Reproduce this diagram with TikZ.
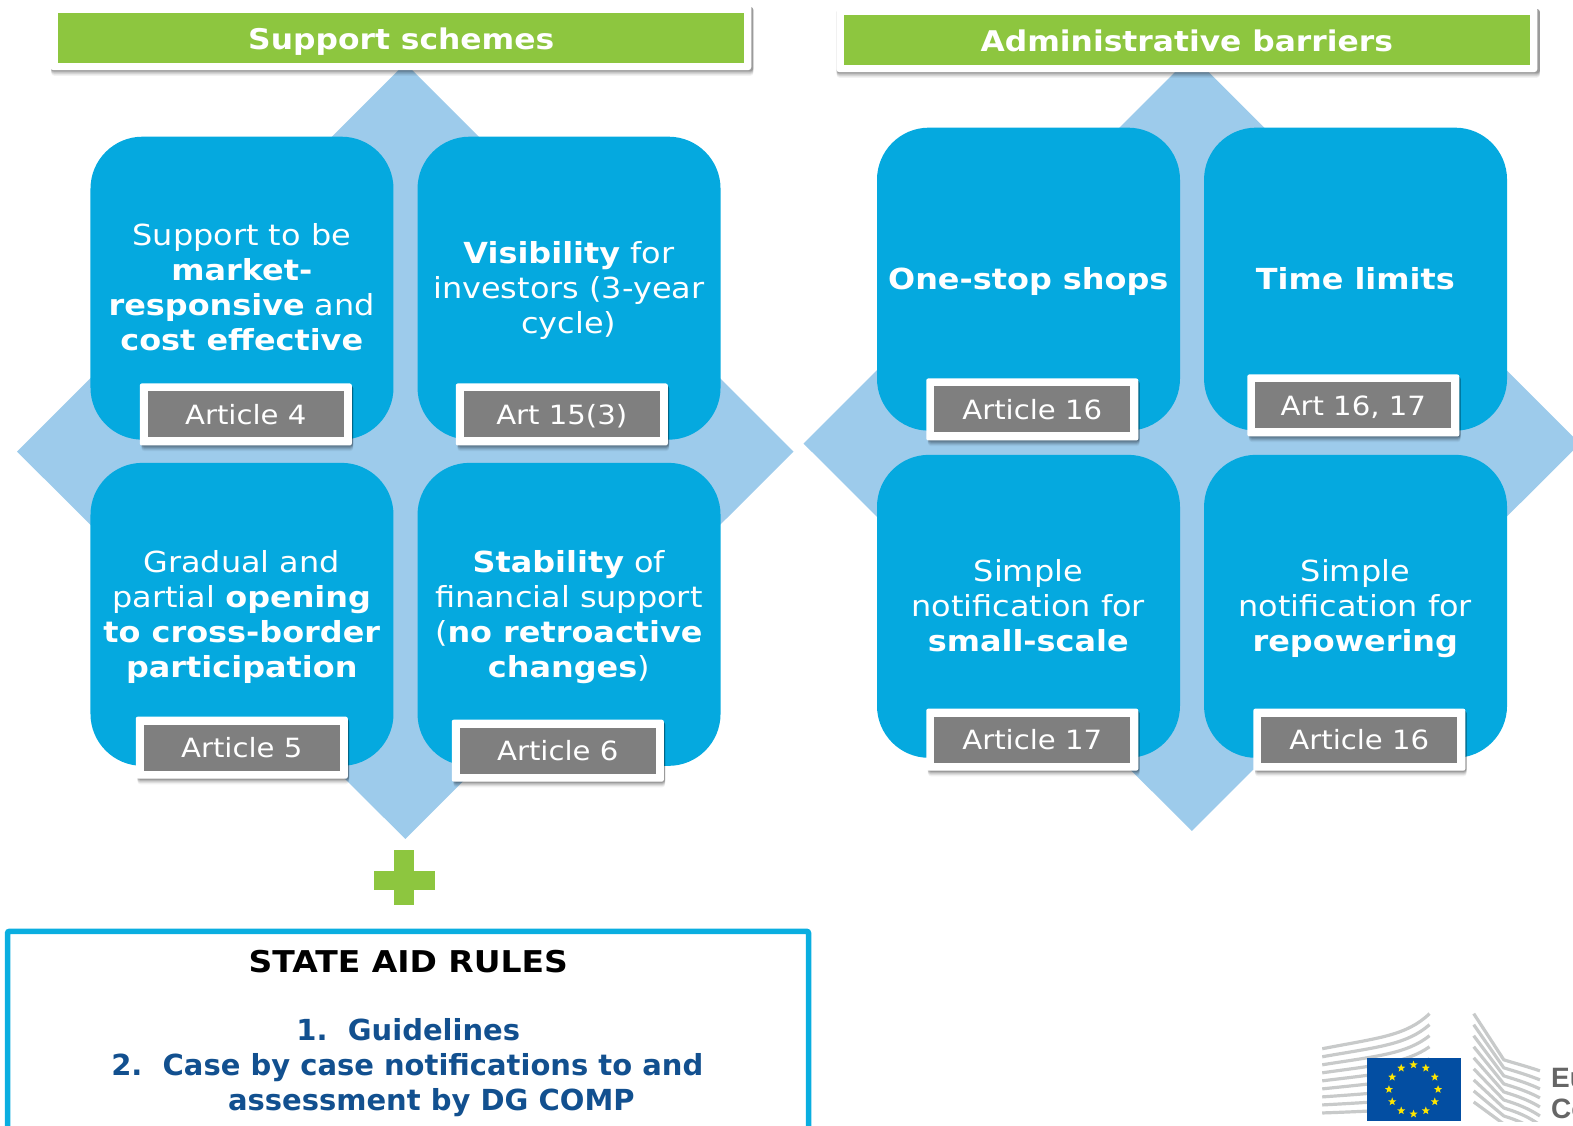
\documentclass[tikz,border=0pt]{standalone}
\usepackage{fontspec}
\setmainfont[FakeStretch=1.10]{DejaVu Sans}
\newfontfamily\rulesfont{DejaVu Sans}
\newfontfamily\logofont{Liberation Sans}
\usetikzlibrary{shapes.geometric}
\definecolor{hdrgreen}{HTML}{8DC63F}
\definecolor{tileblue}{HTML}{05A9DF}
\definecolor{diamblue}{HTML}{9DCBEB}
\definecolor{taggray}{HTML}{7F7F7F}
\definecolor{rulesblue}{HTML}{12508F}
\definecolor{frameblue}{HTML}{0AAEE0}
\definecolor{flagblue}{HTML}{034EA2}
\definecolor{flagstar}{HTML}{FFE600}
\definecolor{swoosh}{HTML}{C8CACA}
\definecolor{logotext}{HTML}{666666}
\tikzset{
  tile/.style={fill=tileblue,rounded corners=52pt,minimum width=303pt,minimum height=303pt,inner sep=0pt,anchor=north west},
  tiletext/.style={text=white,align=center,font=\fontsize{29}{35}\selectfont,inner sep=0pt},
  tagwhite/.style={fill=white,rounded corners=2pt,minimum width=212pt,minimum height=62pt,inner sep=0pt},
  taggrey/.style={fill=taggray,text=white,minimum width=196pt,minimum height=46pt,inner sep=0pt,text height=20pt,text depth=0pt,font=\fontsize{26.5}{32}\selectfont},
  hdrwhite/.style={fill=white,rounded corners=3pt,minimum width=701pt,minimum height=65pt,inner sep=0pt},
  hdrgrn/.style={fill=hdrgreen,text=white,minimum width=686pt,minimum height=50pt,inner sep=0pt,text height=22pt,text depth=0pt,font=\fontsize{28.5}{36}\selectfont\bfseries},
  diamond bg/.style={fill=diamblue},
  rulestext/.style={text=rulesblue,font=\rulesfont\fontsize{29}{35}\selectfont\bfseries,inner sep=0pt,text height=22pt,text depth=0pt},
  swooshline/.style={draw=swoosh,line width=3.2pt},
  euro star/.style={star,star points=5,star point ratio=2.4,fill=flagstar,minimum size=8.5pt,inner sep=0pt}
}
\newcommand{\softbox}[4]{%
  \foreach \g/\o in {5/.05,4/.07,3/.09,2/.11,1/.15}{%
    \fill[black,opacity=\o,rounded corners=3pt] (#1+2,#2+2) rectangle (#3+1,#4+\g*1.1);}%
}
\newcommand{\arttag}[4]{%
  \softbox{#2-106}{#3-31}{#2+106}{#3+31}%
  \node[tagwhite] (#1w) at (#2,#3) {};
  \node[taggrey] (#1) at (#2,#3) {#4};
}
\begin{document}
\begin{tikzpicture}[x=1.00319pt,y=-1.00357pt]
\useasboundingbox (0,0) rectangle (1568,1121);
\clip (0,0) rectangle (1568,1121);
% diamonds
\fill[diamond bg] (404,63) -- (791,450) -- (404,836) -- (17,450) -- cycle;
\fill[diamond bg] (1188,55) -- (1575,442) -- (1188,828) -- (801,442) -- cycle;
% headers
\softbox{49}{5}{750}{70}
\node[hdrwhite] (hsw) at (399.5,37.5) {};
\node[hdrgrn] (hs) at (400,38) {Support schemes};
\softbox{832}{7}{1534}{72}
\node[hdrwhite] (hbw) at (1183,39.5) {};
\node[hdrgrn] (hb) at (1183,40) {Administrative barriers};
% tiles left
\node[tile] (t1) at (90,136) {};
\node[tile] (t2) at (416,136) {};
\node[tile] (t3) at (90,461) {};
\node[tile] (t4) at (416,461) {};
% tiles right
\node[tile] (t5) at (874,127) {};
\node[tile] (t6) at (1200,127) {};
\node[tile] (t7) at (874,453) {};
\node[tile] (t8) at (1200,453) {};
% tile text
\node[tiletext] (x1) at (241,286) {Support to be\\\textbf{market-}\\\textbf{responsive} and\\\textbf{cost effective}};
\node[tiletext] (x2) at (567,289) {\textbf{Visibility} for\\investors (3-year\\cycle)};
\node[tiletext] (x3) at (241,615) {Gradual and\\partial \textbf{opening}\\\textbf{to cross-border}\\\textbf{participation}};
\node[tiletext] (x4) at (567,615) {\textbf{Stability} of\\financial support\\(\textbf{no retroactive}\\\textbf{changes})};
\node[tiletext,text height=22pt,text depth=0pt] (x5) at (1025,278) {\textbf{One-stop shops}};
\node[tiletext,text height=22pt,text depth=0pt] (x6) at (1351,278) {\textbf{Time limits}};
\node[tiletext] (x7) at (1025,604) {Simple\\notification for\\\textbf{small-scale}};
\node[tiletext] (x8) at (1351,606) {Simple\\notification for\\\textbf{repowering}};
% tags
\arttag{a1}{245}{413}{Article 4}
\arttag{a2}{560}{413}{Art 15(3)}
\arttag{a3}{241}{745}{Article 5}
\arttag{a4}{556}{748}{Article 6}
\arttag{a5}{1029}{408}{Article 16}
\arttag{a6}{1349}{404}{Art 16, 17}
\arttag{a7}{1029}{737}{Article 17}
\arttag{a8}{1355}{737}{Article 16}
% plus
\fill[hdrgreen] (393,847) rectangle (413,902);
\fill[hdrgreen] (373,867.5) rectangle (434,887);
% state aid box
\draw[frameblue,line width=5.5pt,rounded corners=2pt] (7.5,1140) -- (7.5,928) -- (806,928) -- (806,1140);
\node[inner sep=0pt,font=\fontsize{30}{35}\selectfont\bfseries,text=black] (rt) at (407,958) {STATE AID RULES};
\node[rulestext] (r1) at (407,1026) {1.\ \ Guidelines};
\node[rulestext] (r2) at (406,1061) {2.\ \ Case by case notifications to and};
\node[rulestext] (r3) at (430,1096) {assessment by DG COMP};
% logo
\begin{scope}
\clip (1318,1005) rectangle (1540,1117);
\foreach \i/\a/\b/\c in {0/1045/1034/1010,1/1053/1043/1021,2/1061/1052/1032,3/1069/1061/1043,4/1077/1070/1055,5/1085/1079/1067,6/1093/1089/1079,7/1101/1098/1091,8/1109/1107/1103}{
  \draw[swooshline] (1318,\a) .. controls (1375,\b) and (1402,\b-2) .. (1425,\c);
}
\foreach \i/\a/\b/\c in {0/1010/1056/1067,1/1021/1064/1076,2/1032/1072/1085,3/1043/1080/1094,4/1054/1088/1103,5/1065/1096/1112,6/1076/1104/1121,7/1087/1112/1130,8/1098/1120/1139}{
  \draw[swooshline] (1469,\a) -- (1499,\b) .. controls (1505,\b+2) and (1520,\b+6) .. (1535,\c);
}
\end{scope}
\node[fill=flagblue,minimum width=94pt,minimum height=63pt,inner sep=0pt] (flag) at (1409,1085.5) {};
\foreach \i in {1,...,12}{
  \node[euro star] (st\i) at ({1409+24.5*cos(30*\i)},{1085.5+24.5*sin(30*\i)}) {};
}
\node[anchor=base west,inner sep=0pt,text=logotext,font=\logofont\fontsize{28}{28}\selectfont\bfseries] (lg1) at (1546,1084) {Eu};
\node[anchor=base west,inner sep=0pt,text=logotext,font=\logofont\fontsize{28}{28}\selectfont\bfseries] (lg2) at (1546,1115) {Co};
\end{tikzpicture}
\end{document}
